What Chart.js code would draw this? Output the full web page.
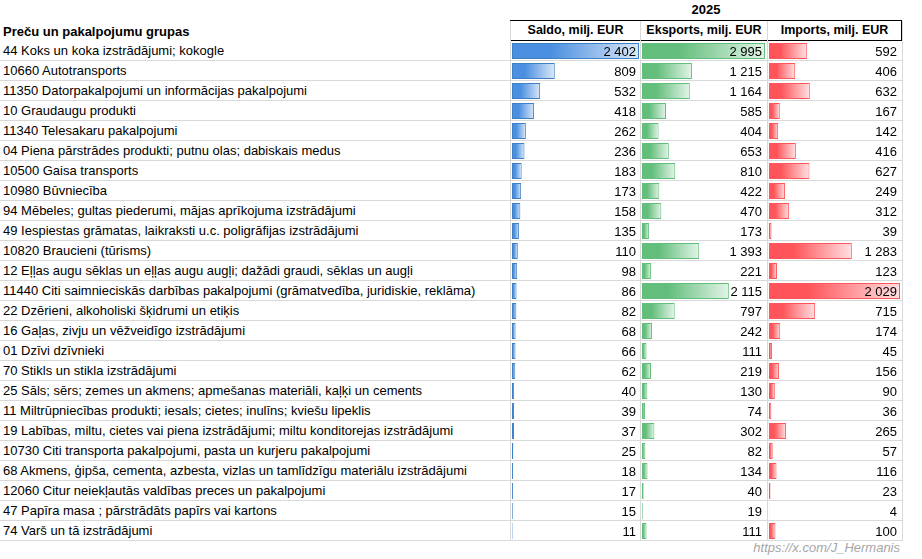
<!doctype html>
<html>
<head>
<meta charset="utf-8">
<script src="https://cdn.jsdelivr.net/npm/chart.js@4/dist/chart.umd.min.js"></script>
<style>
  body { margin: 0; background: #fff; font-family: "Liberation Sans", Arial, sans-serif; font-size: 13px; }
  #wrap { position: relative; width: 922px; height: 559px; }
  .row { position: absolute; left: 0; width: 902px; height: 20px; border-bottom: 1px solid #d9d9d9; box-sizing: border-box; }
  .lbl { position: absolute; left: 3px; top: 2px; white-space: nowrap; color: #000; }
  .vline { position: absolute; top: 21px; width: 1px; height: 520px; background: #d9d9d9; }
  .hdr { position: absolute; top: 20px; height: 21px; border: 1px solid #000; box-sizing: border-box; font-weight: bold; text-align: center; line-height: 19px; font-size: 12.5px; }
  canvas { position: absolute; top: 41px; }
  #wm { position: absolute; right: 22px; bottom: 4px; color: #a6a6a6; font-style: italic; font-size: 13px; }
</style>
</head>
<body>
<div id="wrap">
  <div style="position:absolute;left:510px;width:392px;top:2px;text-align:center;font-weight:bold;">2025</div>
  <div style="position:absolute;left:3px;top:24px;font-weight:bold;">Preču un pakalpojumu grupas</div>
  <div class="hdr" style="left:510px;width:131px;">Saldo, milj. EUR</div>
  <div class="hdr" style="left:640px;width:128px;">Eksports, milj. EUR</div>
  <div class="hdr" style="left:767px;width:135px;">Imports, milj. EUR</div>
  <div id="wm">https://x.com/J_Hermanis</div>
</div>
<script>
var categories = [
  "44 Koks un koka izstrādājumi; kokogle",
  "10660 Autotransports",
  "11350 Datorpakalpojumi un informācijas pakalpojumi",
  "10 Graudaugu produkti",
  "11340 Telesakaru pakalpojumi",
  "04 Piena pārstrādes produkti; putnu olas; dabiskais medus",
  "10500 Gaisa transports",
  "10980 Būvniecība",
  "94 Mēbeles; gultas piederumi, mājas aprīkojuma izstrādājumi",
  "49 Iespiestas grāmatas, laikraksti u.c. poligrāfijas izstrādājumi",
  "10820 Braucieni (tūrisms)",
  "12 Eļļas augu sēklas un eļļas augu augļi; dažādi graudi, sēklas un augļi",
  "11440 Citi saimnieciskās darbības pakalpojumi (grāmatvedība, juridiskie, reklāma)",
  "22 Dzērieni, alkoholiski šķidrumi un etiķis",
  "16 Gaļas, zivju un vēžveidīgo izstrādājumi",
  "01 Dzīvi dzīvnieki",
  "70 Stikls un stikla izstrādājumi",
  "25 Sāls; sērs; zemes un akmens; apmešanas materiāli, kaļķi un cements",
  "11 Miltrūpniecības produkti; iesals; cietes; inulīns; kviešu lipeklis",
  "19 Labības, miltu, cietes vai piena izstrādājumi; miltu konditorejas izstrādājumi",
  "10730 Citi transporta pakalpojumi, pasta un kurjeru pakalpojumi",
  "68 Akmens, ģipša, cementa, azbesta, vizlas un tamlīdzīgu materiālu izstrādājumi",
  "12060 Citur neiekļautās valdības preces un pakalpojumi",
  "47 Papīra masa ; pārstrādāts papīrs vai kartons",
  "74 Varš un tā izstrādājumi"
];
var saldo = [2402, 809, 532, 418, 262, 236, 183, 173, 158, 135, 110, 98, 86, 82, 68, 66, 62, 40, 39, 37, 25, 18, 17, 15, 11];
var eksports = [2995, 1215, 1164, 585, 404, 653, 810, 422, 470, 173, 1393, 221, 2115, 797, 242, 111, 219, 130, 74, 302, 82, 134, 40, 19, 111];
var imports = [592, 406, 632, 167, 142, 416, 627, 249, 312, 39, 1283, 123, 2029, 715, 174, 45, 156, 90, 36, 265, 57, 116, 23, 4, 100];

var wrap = document.getElementById('wrap');
categories.forEach(function(c, i) {
  var r = document.createElement('div');
  r.className = 'row';
  r.style.top = (41 + i * 20) + 'px';
  var l = document.createElement('div');
  l.className = 'lbl';
  l.textContent = c;
  r.appendChild(l);
  wrap.appendChild(r);
});
[510, 640, 767, 902].forEach(function(x) {
  var v = document.createElement('div');
  v.className = 'vline';
  v.style.left = x + 'px';
  wrap.appendChild(v);
});

function fmt(n) { return String(n).replace(/\B(?=(\d{3})+(?!\d))/g, ' '); }

var valueLabels = {
  id: 'valueLabels',
  afterDatasetsDraw: function(chart) {
    var ctx = chart.ctx, meta = chart.getDatasetMeta(0);
    ctx.save();
    ctx.font = '13px "Liberation Sans", Arial, sans-serif';
    ctx.fillStyle = '#000';
    ctx.textAlign = 'right';
    ctx.textBaseline = 'middle';
    meta.data.forEach(function(bar, i) {
      ctx.fillText(fmt(chart.data.datasets[0].data[i]), chart.chartArea.right - 3, bar.y + 1);
    });
    ctx.restore();
  }
};

function makeChart(left, width, data, color, pale, border) {
  var cv = document.createElement('canvas');
  cv.style.left = left + 'px';
  cv.width = width; cv.height = 500;
  cv.style.width = width + 'px'; cv.style.height = '500px';
  wrap.appendChild(cv);
  var max = Math.max.apply(null, data);
  new Chart(cv, {
    type: 'bar',
    data: {
      labels: categories,
      datasets: [{
        data: data,
        borderColor: border,
        borderWidth: 1,
        borderSkipped: false,
        barPercentage: 0.8,
        categoryPercentage: 1,
        backgroundColor: function(c) {
          var ch = c.chart;
          if (!ch.chartArea || c.dataIndex === undefined) return color;
          var xs = ch.scales.x;
          var x0 = xs.getPixelForValue(0), x1 = xs.getPixelForValue(data[c.dataIndex]);
          if (x1 - x0 < 1) return color;
          var g = ch.ctx.createLinearGradient(x0, 0, x1, 0);
          g.addColorStop(0, color);
          g.addColorStop(0.3, color);
          g.addColorStop(1, pale);
          return g;
        }
      }]
    },
    options: {
      indexAxis: 'y',
      responsive: false,
      animation: false,
      layout: { padding: 0 },
      plugins: { legend: { display: false }, tooltip: { enabled: false } },
      scales: {
        x: { display: false, min: 0, max: max },
        y: { display: false }
      }
    },
    plugins: [valueLabels]
  });
}

makeChart(512, 127, saldo, '#4a8fe0', '#dbe8f8', '#3f7fc4');
makeChart(642, 123, eksports, '#63be7b', '#e3f4e8', '#63be7b');
makeChart(769, 131, imports, '#ff555a', '#ffe1e2', '#ff555a');
</script>
</body>
</html>
